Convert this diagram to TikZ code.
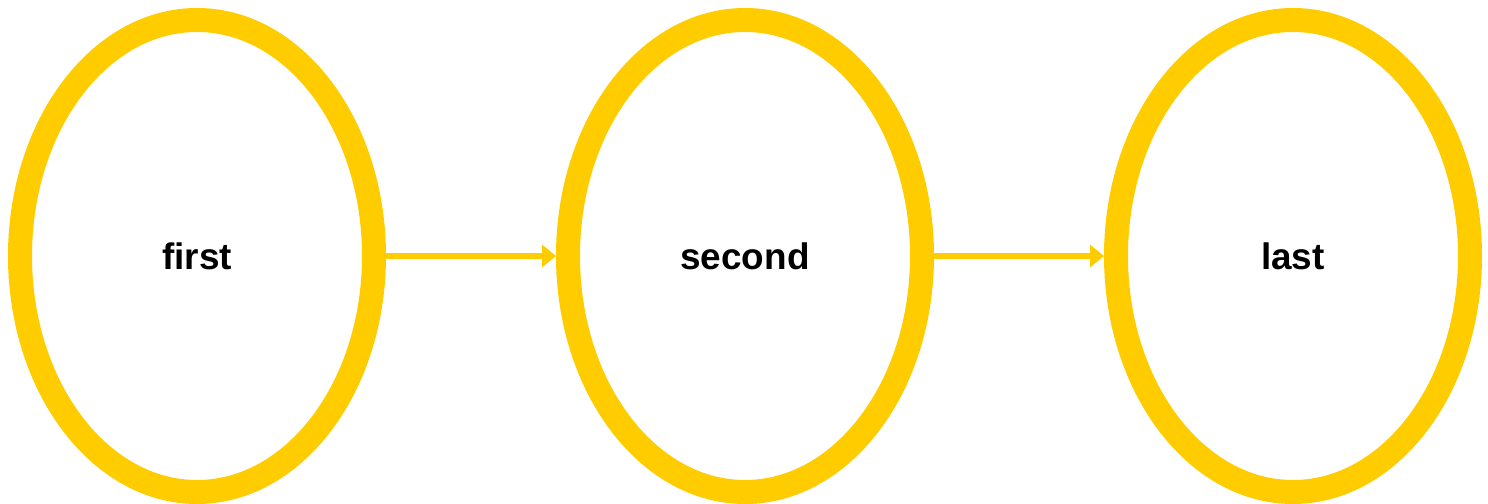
\documentclass[tikz,border=0pt]{standalone}
\usepackage{fontspec}
\setmainfont{Liberation Sans}
\usetikzlibrary{arrows.meta, positioning, shapes.geometric}
\definecolor{NodeGold}{HTML}{FFCC00}

\begin{document}
\begin{tikzpicture}[
        font=\fontsize{21}{25}\selectfont\bfseries,
        state/.style={ellipse, draw=NodeGold, line width=0.48cm, minimum width=7.08cm, minimum height=9.44cm, inner sep=0pt},
        link/.style={-{Triangle[length=0.28cm, width=0.44cm]}, line width=0.12cm, NodeGold},
      ]
        \def\W{29.76}\def\H{10.08}\def\yc{4.96}
        \useasboundingbox (0,0) rectangle (\W,\H);
        % ---- states ----
        \node[state] (first) at (3.94,\yc) {first};
        \node[state] (second) at (14.9,\yc) {second};
        \node[state] (last) at (25.86,\yc) {last};
        % ---- links ----
        \draw[link] (first) -- (second);
        \draw[link] (second) -- (last);
      \end{tikzpicture}
\end{document}
